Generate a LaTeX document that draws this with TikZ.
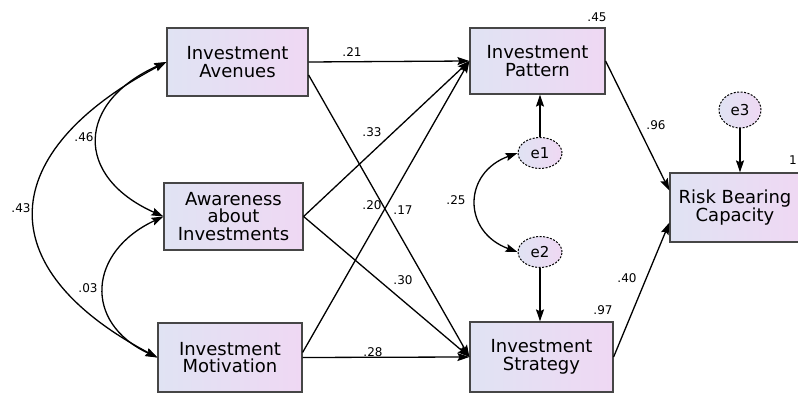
\documentclass[tikz,border=0pt]{standalone}
\usepackage{fontspec}
\setmainfont{DejaVu Sans}
\usetikzlibrary{shapes.geometric, arrows.meta}
\definecolor{boxleft}{RGB}{224,227,243}
\definecolor{boxright}{RGB}{239,216,243}
\definecolor{boxline}{RGB}{70,70,70}

\begin{document}
\begin{tikzpicture}[
    x=1pt, y=1pt,
    construct/.style={rectangle, draw=boxline, line width=1.2pt, left color=boxleft, right color=boxright, font=\fontsize{18}{17.5}\selectfont, align=center, minimum width=140pt, minimum height=68pt, inner sep=0pt},
    errterm/.style={ellipse, draw=black, dash pattern=on 2pt off 1.5pt, line width=1pt, left color=boxleft, right color=boxright, font=\fontsize{15}{15}\selectfont, minimum width=44pt, minimum height=31pt, inner sep=0pt},
    coef/.style={font=\fontsize{12}{12}\selectfont, inner sep=1pt},
    arrow/.style={->, line width=1.3pt, >={Stealth[length=12pt, width=8pt, inset=2pt]}},
    twoway/.style={<->, line width=1.3pt, >={Stealth[length=12pt, width=8pt, inset=2pt]}}
]
\useasboundingbox (0,0) rectangle (798,393);

% exogenous constructs
\node[construct, minimum width=141pt] (avenues) at (237.5,331) {Investment\\Avenues};
\node[construct, minimum width=139pt, minimum height=67pt] (awareness) at (233.5,176.5) {Awareness\\about\\Investments};
\node[construct, minimum width=144pt, minimum height=69pt] (motivation) at (230,35.5) {Investment\\Motivation};

% endogenous constructs
\node[construct, minimum width=135pt, minimum height=66pt] (pattern) at (537.5,332) {Investment\\Pattern};
\node[construct, minimum width=143pt, minimum height=70pt] (strategy) at (541.5,36) {Investment\\Strategy};
\node[construct, minimum width=130pt, minimum height=69pt] (risk) at (735,185.5) {Risk Bearing\\Capacity};

% error terms
\node[errterm] (e1) at (540,240) {e1};
\node[errterm] (e2) at (540,141) {e2};
\node[errterm, minimum width=42pt, minimum height=36pt] (e3) at (740,283) {e3};

% paths
\draw[arrow] (avenues.east) -- (pattern.west);
\draw[arrow] ([yshift=-13pt]avenues.east) -- (strategy.west);
\draw[arrow] (awareness.east) -- (pattern.west);
\draw[arrow] (awareness.east) -- (strategy.west);
\draw[arrow] ([yshift=5pt]motivation.east) -- (pattern.west);
\draw[arrow] (motivation.east) -- (strategy.west);
\draw[arrow] (pattern.east) -- ([yshift=17pt]risk.west);
\draw[arrow] (strategy.east) -- ([yshift=-15pt]risk.west);
\draw[arrow] (e1.north) -- (e1.north |- pattern.south);
\draw[arrow] (e2.south) -- (e2.south |- strategy.north);
\draw[arrow] (e3.south) -- (e3.south |- risk.north);

% covariances
\draw[twoway] (avenues.west) .. controls +(-90,-40) and +(-90,40) .. (awareness.west);
\draw[twoway] (avenues.west) .. controls +(-170,-90) and +(-170,90) .. (motivation.west);
\draw[twoway] (awareness.west) .. controls +(-75,-35) and +(-75,35) .. (motivation.west);
\draw[twoway] (e1.west) .. controls +(-55,-20) and +(-55,20) .. (e2.west);

% estimates
\node[coef] (p21) at (352,341) {.21};
\node[coef] (p33) at (372,261) {.33};
\node[coef] (p20) at (372,188) {.20};
\node[coef] (p17) at (403,183) {.17};
\node[coef] (p30) at (403,113) {.30};
\node[coef] (p28) at (373,41) {.28};
\node[coef] (c46) at (84,256) {.46};
\node[coef] (c43) at (21,185) {.43};
\node[coef] (c03) at (88,105) {.03};
\node[coef] (c25) at (456,193) {.25};
\node[coef] (p96) at (656,268) {.96};
\node[coef] (p40) at (627,115) {.40};
\node[coef] (r45) at (597,376) {.45};
\node[coef] (r97) at (603,83) {.97};
\node[coef, anchor=east] (r1) at (798,233) {1};

\end{tikzpicture}
\end{document}
